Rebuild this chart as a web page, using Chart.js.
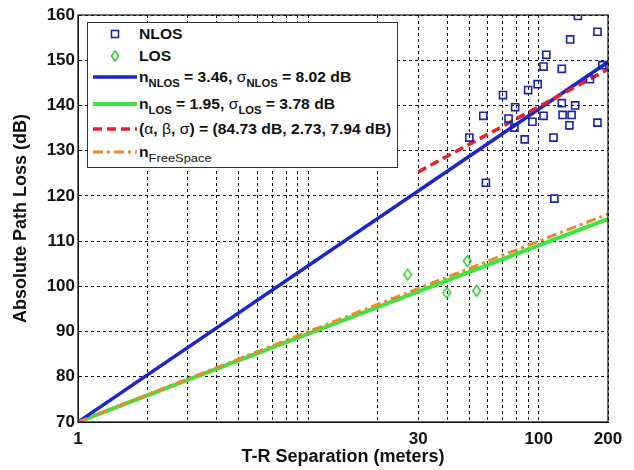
<!DOCTYPE html>
<html>
<head>
<meta charset="utf-8">
<script src="https://cdn.jsdelivr.net/npm/chart.js@4.4.1/dist/chart.umd.min.js"></script>
<style>
  body { margin: 0; background: #fff; }
  #wrap { position: relative; width: 634px; height: 470px; }
  #legend {
    position: absolute; left: 87px; top: 22px; width: 311px; height: 146px;
    border: 1px solid #333; background: #fff; box-sizing: border-box;
    font: bold 14px "Liberation Sans", Arial, sans-serif; color: #111;
  }
  .row { position: absolute; left: 5px; height: 20px; display: flex; align-items: center; white-space: nowrap; }
  .row svg { margin-right: 2px; flex: none; }
  .row .t { white-space: pre; display: inline-block; transform: scaleX(1.12); transform-origin: left center; }
  sub { font-size: 10px; position: relative; top: 5px; vertical-align: baseline; line-height: 0; }
  .g { font-weight: normal; }
</style>
</head>
<body>
<div id="wrap">
  <canvas id="chart" width="634" height="470"></canvas>
  <div id="legend">
    <div class="row" style="top:1px"><svg width="44" height="12"><rect x="18.5" y="2.5" width="7" height="7" fill="none" stroke="#1a22b0" stroke-width="1.6"/></svg><span class="t">NLOS</span></div>
    <div class="row" style="top:23px"><svg width="44" height="12"><path d="M22 0.8 L25.5 6 L22 11.2 L18.5 6 Z" fill="none" stroke="#33cc33" stroke-width="1.6"/></svg><span class="t">LOS</span></div>
    <div class="row" style="top:44px"><svg width="44" height="12"><line x1="0" y1="6" x2="44" y2="6" stroke="#1b25cc" stroke-width="3.5"/></svg><span class="t">n<sub>NLOS</sub> = 3.46, <span class="g">σ</span><sub>NLOS</sub> = 8.02 dB</span></div>
    <div class="row" style="top:71px"><svg width="44" height="12"><line x1="0" y1="6" x2="44" y2="6" stroke="#3de43d" stroke-width="4"/></svg><span class="t">n<sub>LOS</sub> = 1.95, <span class="g">σ</span><sub>LOS</sub> = 3.78 dB</span></div>
    <div class="row" style="top:96px"><svg width="44" height="12"><line x1="0" y1="6" x2="44" y2="6" stroke="#e3222c" stroke-width="3.5" stroke-dasharray="9,5"/></svg><span class="t">(<span class="g">α</span>, <span class="g">β</span>, <span class="g">σ</span>) = (84.73 dB, 2.73, 7.94 dB)</span></div>
    <div class="row" style="top:119px"><svg width="44" height="12"><line x1="0" y1="6" x2="44" y2="6" stroke="#ea8a2e" stroke-width="3" stroke-dasharray="10,4,3,4"/></svg><span class="t">n<sub style="font-weight:normal;font-size:11.5px">FreeSpace</sub></span></div>
  </div>
</div>
<script>
// ---- data ----
const nlosDist = [148, 180, 137, 108, 105, 126, 189, 167, 99, 90, 70, 79, 126, 144, 57.5, 74, 94, 105, 127, 139, 136, 180, 78.5, 50, 87, 116, 59, 117];
const nlosLoss = [159.8, 156.3, 154.6, 151.2, 148.6, 148.1, 148.9, 145.8, 144.7, 143.4, 142.3, 139.6, 140.5, 140.0, 137.7, 137.1, 136.4, 137.7, 137.9, 137.9, 135.6, 136.2, 135.1, 132.9, 132.5, 132.9, 122.9, 119.4];

const losDist = [27, 39.9, 49, 53.8];
const losLoss = [102.6, 98.6, 105.6, 99.0];

// fitted lines (end points)
const fitDist = [1, 200];
const nlosFit = [70, 149.6];
const losFit = [70, 114.9];
const freeFit = [70, 116.0];
const abgDist = [30, 200];
const abgFit = [125.3, 148.0];

// axis ticks
const xGridTicks = [1, 2, 3, 4, 5, 6, 7, 8, 9, 10, 20, 30, 40, 50, 60, 70, 80, 90, 100, 200];
const xLabelTicks = [1, 30, 100, 200];

const pts = (xs, ys) => xs.map((x, i) => ({ x, y: ys[i] }));

// MATLAB style tall diamond marker
function diamond(w, h, color, lw) {
  const c = document.createElement("canvas");
  c.width = w + lw * 2; c.height = h + lw * 2;
  const g = c.getContext("2d");
  g.strokeStyle = color; g.lineWidth = lw;
  g.beginPath();
  g.moveTo(c.width / 2, lw); g.lineTo(c.width - lw, c.height / 2);
  g.lineTo(c.width / 2, c.height - lw); g.lineTo(lw, c.height / 2);
  g.closePath(); g.stroke();
  return c;
}

// box round the plot area
const frame = {
  id: "frame",
  afterDraw(chart) {
    const { ctx, chartArea: a } = chart;
    ctx.save();
    ctx.strokeStyle = "#111";
    ctx.lineWidth = 1.2;
    ctx.strokeRect(a.left, a.top, a.right - a.left, a.bottom - a.top);
    ctx.restore();
  }
};

const font = "'Liberation Sans', Arial, sans-serif";

new Chart(document.getElementById("chart"), {
  type: "scatter",
  data: {
    datasets: [
      { label: "NLOS", data: pts(nlosDist, nlosLoss), pointStyle: "rect", pointRadius: 5,
        borderColor: "#1a22b0", backgroundColor: "transparent", borderWidth: 1.6 },
      { label: "LOS", data: pts(losDist, losLoss), pointStyle: diamond(8, 11, "#33cc33", 1.6) },
      { label: "FreeSpace", data: pts(fitDist, freeFit), showLine: true, pointRadius: 0,
        borderColor: "#ea8a2e", borderWidth: 3, borderDash: [10, 4, 3, 4] },
      { label: "ABG", data: pts(abgDist, abgFit), showLine: true, pointRadius: 0,
        borderColor: "#e3222c", borderWidth: 3.5, borderDash: [9, 5] },
      { label: "NLOS fit", data: pts(fitDist, nlosFit), showLine: true, pointRadius: 0,
        borderColor: "#1b25cc", borderWidth: 3.5 },
      { label: "LOS fit", data: pts(fitDist, losFit), showLine: true, pointRadius: 0,
        borderColor: "#3de43d", borderWidth: 4 }
    ]
  },
  options: {
    responsive: false,
    animation: false,
    layout: { padding: { left: 0, top: 15, right: 26, bottom: 0 } },
    plugins: { legend: { display: false }, tooltip: { enabled: false } },
    scales: {
      x: {
        type: "logarithmic", min: 1, max: 200,
        afterBuildTicks: s => { s.ticks = xGridTicks.map(v => ({ value: v })); },
        afterFit: s => { s.height = 48; },
        ticks: {
          autoSkip: false, maxRotation: 0, padding: 7, color: "#111",
          font: { family: font, size: 17, weight: "bold" },
          callback: v => (xLabelTicks.includes(v) ? String(v) : "")
        },
        grid: { color: "#111", lineWidth: 1, drawTicks: false },
        border: { display: true, color: "#111", dash: [3, 3] },
        title: { display: true, text: "T-R Separation (meters)", color: "#111",
          font: { family: font, size: 18, weight: "bold" }, padding: { top: 0, bottom: 2 } }
      },
      y: {
        min: 70, max: 160,
        afterFit: s => { s.width = 78; },
        ticks: { stepSize: 10, padding: 3, color: "#111",
          font: { family: font, size: 17, weight: "bold" } },
        grid: { color: "#111", lineWidth: 1, drawTicks: false },
        border: { display: true, color: "#111", dash: [3, 3] },
        title: { display: true, text: "Absolute Path Loss (dB)", color: "#111",
          font: { family: font, size: 18, weight: "bold" }, padding: { top: 10, bottom: 0 } }
      }
    }
  },
  plugins: [frame]
});
</script>
</body>
</html>
